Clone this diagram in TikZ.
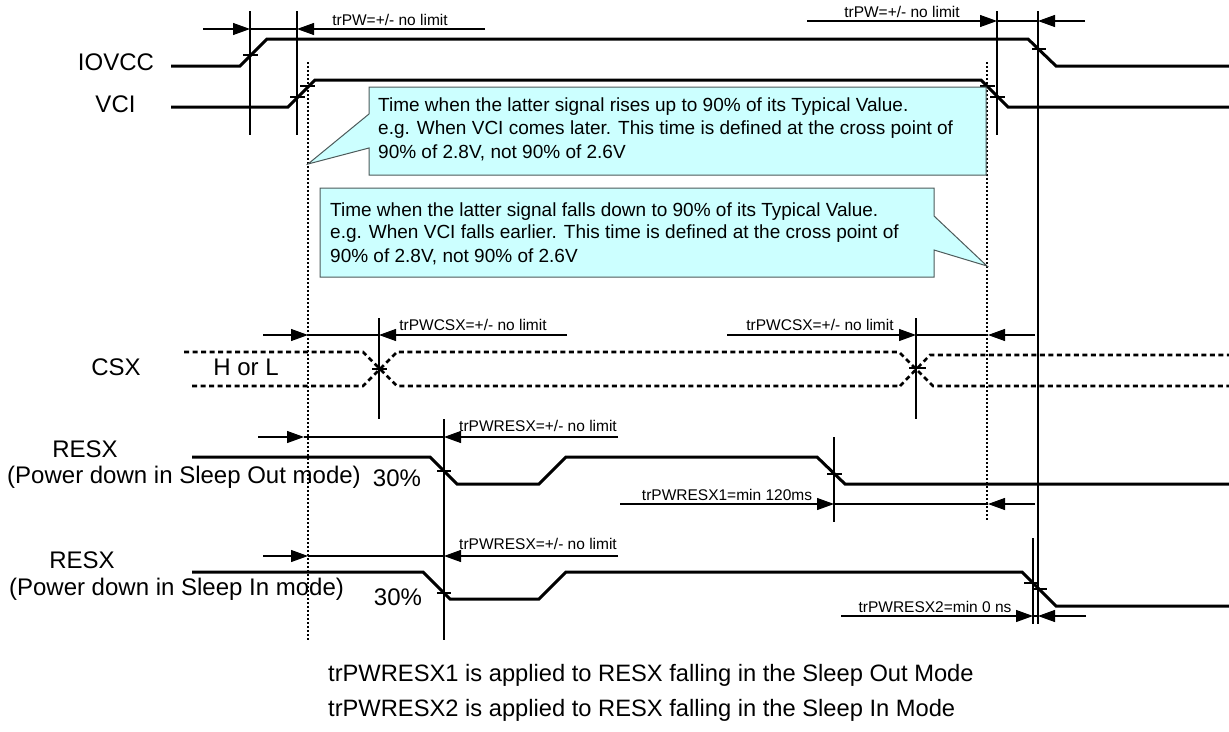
\documentclass[tikz,border=0pt]{standalone}
\usepackage{fontspec}
\setmainfont{Liberation Sans}
\usetikzlibrary{arrows.meta}
\definecolor{note}{HTML}{CCFFFF}
\definecolor{noteline}{HTML}{4D5A5A}
\newcommand{\fs}[1]{\fontsize{#1}{#1}\selectfont}

\begin{document}
\begin{tikzpicture}[x=1pt,y=-1pt,>={Triangle[length=17pt,width=12pt]},
  sig/.style={line width=3pt,line join=miter},
  dsig/.style={line width=2.6pt,dash pattern=on 5pt off 3.5pt},
  rule/.style={line width=1.3pt},
  dim/.style={line width=1.1pt},
  dots/.style={line width=1.1pt,dash pattern=on 2pt off 2pt},
  callout/.style={fill=note,draw=noteline,line width=1pt},
  lbl/.style={inner sep=0pt,font=\fs{24}},
  dimlbl/.style={inner sep=0pt,font=\fs{15.5}},
  txt/.style={inner sep=0pt,anchor=west,font=\fs{19}}]
 \useasboundingbox(0,0)rectangle(1229,731);
 % signals
 \draw[sig](171,66)--(240,66)--(267,39)--(1028,39)--(1056,66)--(1229,66);
 \draw[sig](171,107)--(288,107)--(315,80)--(981,80)--(1008,107)--(1229,107);
 \draw[sig](192,457)--(430,457)--(457,484)--(539,484)--(566,457)--(817,457)--(845,484)--(1229,484);
 \draw[sig](192,572)--(423,572)--(450,599)--(539,599)--(566,572)--(1022,572)--(1056,606)--(1229,606);
 \draw[dsig](184,352)--(363,352)--(397,386)--(900,386);
 \draw[dsig](192,386)--(363,386)--(397,352)--(899,352)--(933,386)--(1229,386);
 \draw[dsig](900,386)--(930,355)--(1229,355);
 % verticals
 \draw[dots](308,62)--(308,640);
 \draw[dots](987,62)--(987,521);
 \foreach \x/\a/\b in {250/11/135,297/11/135,997/11/135,1038/11/624,379/318/419,916/318/419,444/419/640,834/437/522,1033/538/624}
  \draw[rule](\x,\a)--(\x,\b);
 % crossing marks
 \foreach \x/\a/\y in {243/258/55,290/305/97,300/315/86,1032/1046/49,980/995/86,990/1005/97,372/387/369,909/926/368,437/451/471,437/451/593,827/842/474,1024/1039/583,1033/1047/589}
  \draw[rule](\x,\y)--(\a,\y);
 % spans
 \foreach \y/\a/\b/\c/\d in {29/203/250/297/485,21/807/997/1038/1085,335/263/308/379/567,335/727/916/988/1035,437/258/304/444/618,556/263/308/444/618,504/620/834/988/1035,616/841/1033/1038/1086}{
  \draw[dim,->](\a,\y)--(\b,\y);
  \draw[dim](\b,\y)--(\c,\y);
  \draw[dim,->](\d,\y)--(\c,\y);
 }
 % notes
 \draw[callout](369,87)--(986,87)--(986,175)--(369,175)--(369,148)--(308,164)--(369,114)--cycle;
 \draw[callout](320,188)--(934,188)--(934,216)--(987,266)--(934,250)--(934,277)--(320,277)--cycle;
 \node[txt](riseA)at(378,107){Time when the latter signal rises up to 90\% of its Typical Value.};
 \node[txt](riseB)at(378,130){e.g. When VCI comes later. This time is defined at the cross point of};
 \node[txt](riseC)at(378,153){90\% of 2.8V, not 90\% of 2.6V};
 \node[txt](fallA)at(330,212){Time when the latter signal falls down to 90\% of its Typical Value.};
 \node[txt](fallB)at(330,234){e.g. When VCI falls earlier. This time is defined at the cross point of};
 \node[txt](fallC)at(330,257){90\% of 2.8V, not 90\% of 2.6V};
 % names
 \node[lbl](iovcc)at(116,62){IOVCC};
 \node[lbl](vci)at(115.5,104){VCI};
 \node[lbl](csx)at(116,367){CSX};
 \node[lbl](hl)at(246,367){H or L};
 \node[lbl](resxA)at(85,449){RESX};
 \node[lbl](outA)at(184,477){(Power down in Sleep Out mode)};
 \node[lbl](resxB)at(82,560){RESX};
 \node[lbl](inA)at(176.5,589){(Power down in Sleep In mode)};
 \node[lbl](pctA)at(397,478){30\%};
 \node[lbl](pctB)at(398,597){30\%};
 \node[dimlbl](pwA)at(390,20){trPW=+/- no limit};
 \node[dimlbl](pwB)at(902,12){trPW=+/- no limit};
 \node[dimlbl](csA)at(473,325){trPWCSX=+/- no limit};
 \node[dimlbl](csB)at(820,325){trPWCSX=+/- no limit};
 \node[dimlbl](reA)at(538,426){trPWRESX=+/- no limit};
 \node[dimlbl](reB)at(538,544){trPWRESX=+/- no limit};
 \node[dimlbl](reC)at(727,495){trPWRESX1=min 120ms};
 \node[dimlbl](reD)at(935,607){trPWRESX2=min 0 ns};
 \node[txt,font=\fs{23.7}](footA)at(328,675){trPWRESX1 is applied to RESX falling in the Sleep Out Mode};
 \node[txt,font=\fs{23.7}](footB)at(328,710){trPWRESX2 is applied to RESX falling in the Sleep In Mode};
\end{tikzpicture}
\end{document}
